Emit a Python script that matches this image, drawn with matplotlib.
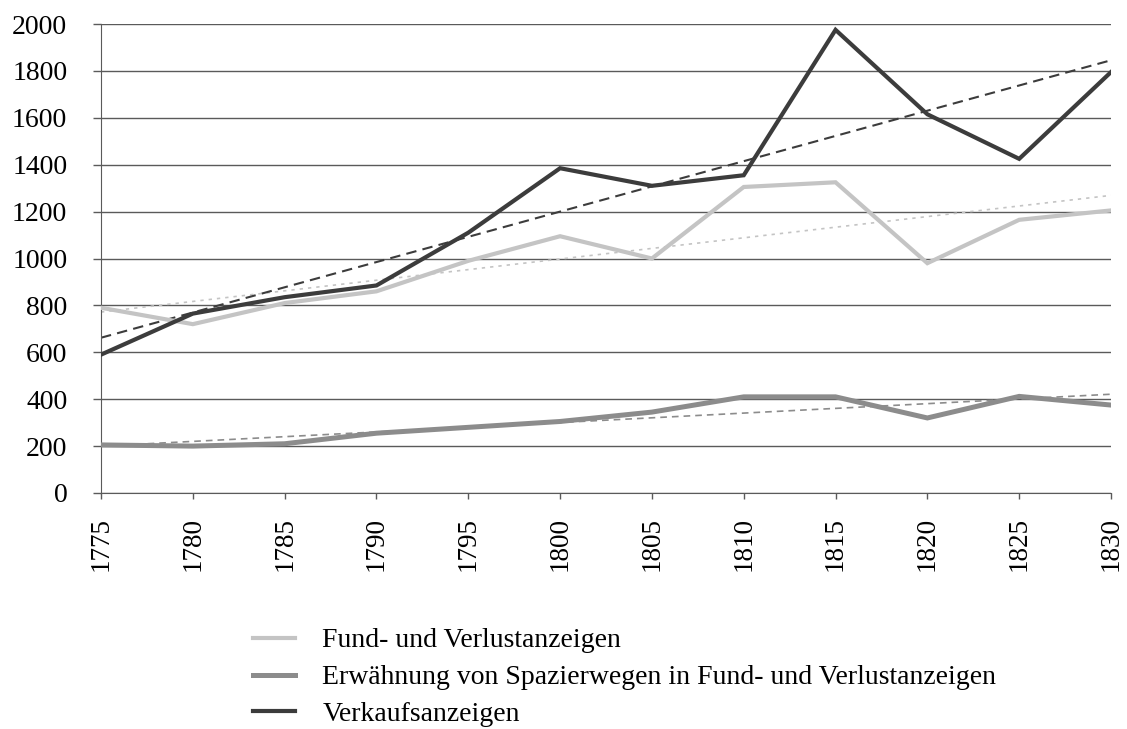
import numpy as np
import matplotlib
matplotlib.use("Agg")
import matplotlib.pyplot as plt

years = [1775, 1780, 1785, 1790, 1795, 1800, 1805, 1810, 1815, 1820, 1825, 1830]
fund_verlust = [790, 720, 810, 860, 990, 1095, 1000, 1305, 1325, 980, 1165, 1205]
spazierwege = [205, 200, 210, 255, 280, 305, 345, 410, 410, 320, 412, 375]
verkauf = [590, 765, 835, 885, 1110, 1385, 1310, 1355, 1975, 1615, 1425, 1795]
labels = ["Fund- und Verlustanzeigen",
          "Erwähnung von Spazierwegen in Fund- und Verlustanzeigen",
          "Verkaufsanzeigen"]
yticks = [0, 200, 400, 600, 800, 1000, 1200, 1400, 1600, 1800, 2000]

plt.rcParams['font.family'] = ['Liberation Serif', 'DejaVu Serif']

fig = plt.figure(figsize=(11.27, 7.29), dpi=100)
ax = fig.add_axes([101/1127, 1-493/729, (1111-101)/1127, (493-24)/729])

grid_c = "#5a5a5a"
for v in yticks:
    ax.axhline(v, color=grid_c, lw=1.0, zorder=1)

x = np.array(years)
c_light, c_mid, c_dark = "#c4c4c4", "#8c8c8c", "#3c3c3c"

series = [(fund_verlust, c_light, 3.0), (spazierwege, c_mid, 3.6), (verkauf, c_dark, 3.0)]
handles = []
for (vals, col, lw), lab in zip(series, labels):
    h, = ax.plot(x, vals, color=col, lw=lw, zorder=3, label=lab, solid_joinstyle='miter')
    handles.append(h)

# linear trendlines
trend_styles = [(c_light, 1.2, (0, (2, 3))), (c_mid, 1.2, (0, (4, 3))), (c_dark, 1.5, (0, (5, 3)))]
for (vals, _, _), (col, lw, ls) in zip(series, trend_styles):
    p = np.polyfit(x, vals, 1)
    ax.plot(x, np.polyval(p, x), color=col, lw=lw, ls=ls, zorder=2)

ax.set_xlim(1775, 1830)
ax.set_ylim(0, 2000)
ax.set_xticks(years)
ax.set_xticklabels([str(y) for y in years], rotation=90, fontsize=19.5)
ax.set_yticks(yticks)
ax.set_yticklabels([str(v) for v in yticks], fontsize=20)
ax.tick_params(axis='y', length=5.8, width=1.0, color=grid_c, pad=18.5)
ax.tick_params(axis='x', length=4, width=1.0, color=grid_c, pad=13.5)
for s in ['top', 'right']:
    ax.spines[s].set_visible(False)
ax.spines['left'].set_color(grid_c)
ax.spines['bottom'].set_color(grid_c)
ax.set_facecolor("none")

fig.legend(handles=handles, labels=labels, loc='upper left',
           bbox_to_anchor=(228/1127, 1-603/729), frameon=False,
           fontsize=20, handlelength=1.5, handletextpad=1.0, labelspacing=0.41)

fig.savefig("out.png", dpi=100)
